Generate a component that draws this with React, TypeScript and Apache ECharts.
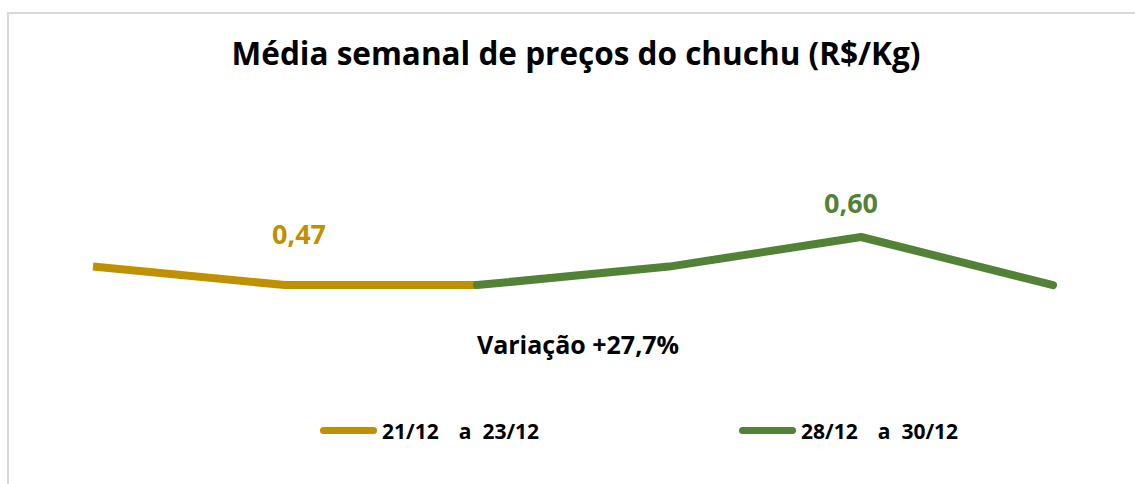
import React, { useEffect, useRef } from "react";
import * as echarts from "echarts";

const categories = ["1", "2", "3", "4", "5", "6"];
const series1Name = "21/12 a 23/12";
const series2Name = "28/12 a 30/12";
const series1Values: (number | string)[] = [0.52, 0.47, 0.47, "-", "-", "-"];
const series2Values: (number | string)[] = ["-", "-", 0.47, 0.52, 0.6, 0.47];
const series1LabelIndex = 1;
const series2LabelIndex = 4;
const titleText = "Média semanal de preços do chuchu (R$/Kg)";
const variationText = "Variação +27,7%";

const GOLD = "#BF9000";
const GREEN = "#538135";
const FONT = "Open Sans";

const capsule =
  "path://M3.5,0 L53.5,0 A3.5,3.5 0 0 1 53.5,7 L3.5,7 A3.5,3.5 0 0 1 3.5,0 Z";

function fmtNum(v: number) {
  return v.toFixed(2).replace(".", ",");
}

export default function App() {
  const ref = useRef<HTMLDivElement>(null);
  useEffect(() => {
    if (!ref.current) return;
    const chart = echarts.init(ref.current, undefined, { renderer: "svg" });

    const labelFor = (color: string, offset: number[]) => ({
      show: true,
      position: "top",
      offset,
      color,
      fontFamily: FONT,
      fontWeight: "bold",
      fontSize: 27,
      formatter: (p: any) => fmtNum(p.value),
    });

    const d1 = series1Values.map((v, i) =>
      i === series1LabelIndex ? { value: v, label: labelFor(GOLD, [14, -33]) } : v
    );
    const d2 = series2Values.map((v, i) =>
      i === series2LabelIndex ? { value: v, label: labelFor(GREEN, [-10, -16]) } : v
    );

    const legendCommon = {
      orient: "horizontal",
      itemWidth: 57,
      itemHeight: 7,
      icon: capsule,
      top: 415,
      formatter: (name: string) => {
        const p = name.split(" a ");
        return `{d|${p[0]}}{a|a}{d|${p[1]}}`;
      },
      textStyle: {
        fontFamily: FONT,
        fontWeight: "bold",
        fontSize: 21,
        color: "#000",
        rich: {
          d: { fontFamily: FONT, fontWeight: "bold", fontSize: 21, color: "#000" },
          a: {
            fontFamily: FONT,
            fontWeight: "bold",
            fontSize: 21,
            color: "#000",
            padding: [0, 11, 0, 20],
          },
        },
      },
    };

    chart.setOption({
      animation: false,
      backgroundColor: "#fff",
      title: {
        text: titleText,
        left: 571,
        top: 31,
        textAlign: "center",
        textStyle: {
          fontFamily: FONT,
          fontWeight: "bold",
          fontSize: 31.5,
          color: "#000",
        },
      },
      legend: [
        { ...legendCommon, left: 315, data: [series1Name] },
        { ...legendCommon, left: 734, data: [series2Name] },
      ],
      grid: { left: 93, right: 82, top: 200, bottom: 136 },
      xAxis: {
        type: "category",
        data: categories,
        boundaryGap: false,
        show: false,
      },
      yAxis: {
        type: "value",
        min: 0.3,
        max: 0.7,
        show: false,
        splitLine: { show: false },
      },
      graphic: [
        {
          type: "rect",
          shape: { x: 8, y: 13, width: 1300, height: 700 },
          style: { fill: "none", stroke: "#d9d9d9", lineWidth: 2 },
          silent: true,
          z: -10,
        },
        {
          type: "text",
          x: 578,
          y: 344,
          style: {
            text: variationText,
            fontFamily: FONT,
            fontWeight: "bold",
            fontSize: 25,
            fill: "#000",
            align: "center",
            verticalAlign: "middle",
          },
        },
      ],
      series: [
        {
          name: series1Name,
          type: "line",
          data: d1,
          color: GOLD,
          symbol: "circle",
          symbolSize: 0,
          showSymbol: true,
          lineStyle: { color: GOLD, width: 8, cap: "butt", join: "round" },
          itemStyle: { color: GOLD },
          z: 2,
        },
        {
          name: series2Name,
          type: "line",
          data: d2,
          color: GREEN,
          symbol: "circle",
          symbolSize: 0,
          showSymbol: true,
          lineStyle: { color: GREEN, width: 8, cap: "round", join: "round" },
          itemStyle: { color: GREEN },
          z: 3,
        },
      ],
    });
    return () => chart.dispose();
  }, []);

  return (
    <div
      ref={ref}
      style={{ position: "fixed", left: 0, top: 0, width: 1135, height: 484 }}
    />
  );
}
